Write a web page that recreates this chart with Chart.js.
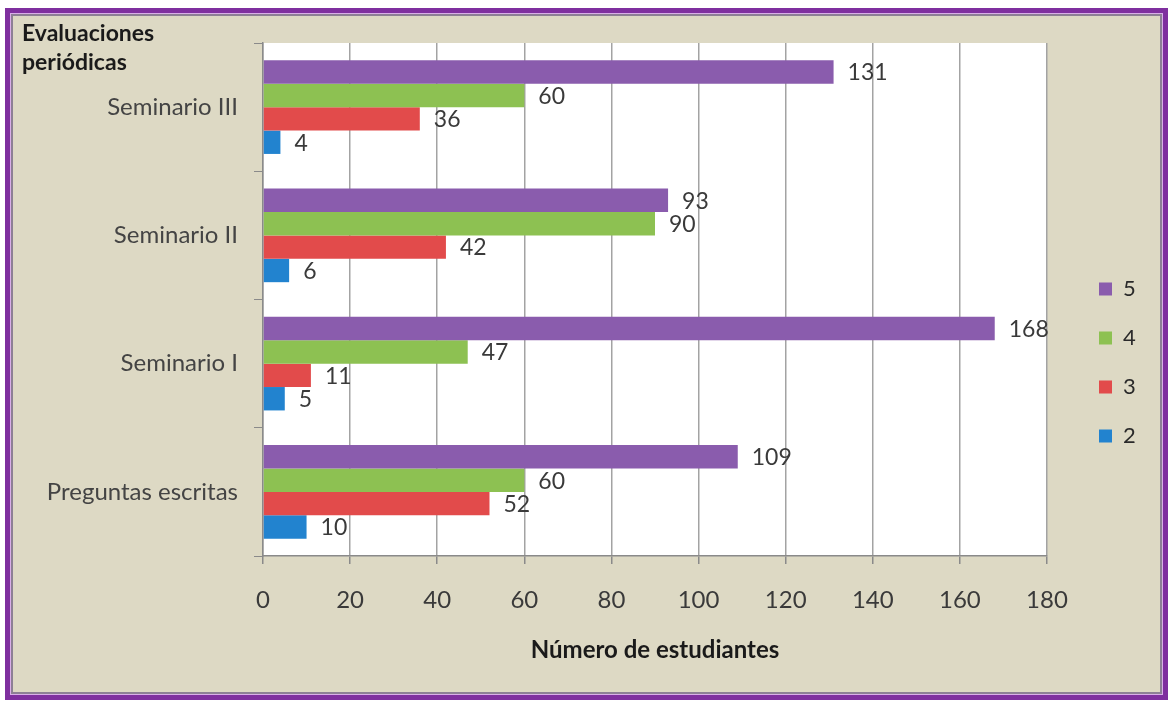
<!DOCTYPE html>
<html>
<head>
<meta charset="utf-8">
<script src="https://cdn.jsdelivr.net/npm/chart.js@4/dist/chart.umd.min.js"></script>
<style>
  html, body { margin:0; padding:0; background:#ffffff; }
  #frame {
    position:absolute; left:5px; top:8px; width:1153px; height:682px;
    border:5px solid #7f2f9f; background:#ddd9c4;
    box-shadow: inset 0 0 0 1px #d9aee8, inset 0 0 0 3px #8d7f95;
  }
  #wrap { position:absolute; left:0; top:0; width:1173px; height:702px; }
</style>
</head>
<body>
<div id="frame"></div>
<div id="wrap"><canvas id="c" width="1173" height="702"></canvas></div>
<script>
const categories = ['Seminario III', 'Seminario II', 'Seminario I', 'Preguntas escritas'];
const seriesNames = ['5', '4', '3', '2'];
const values5 = [131, 93, 168, 109];
const values4 = [60, 90, 47, 60];
const values3 = [36, 42, 11, 52];
const values2 = [4, 6, 5, 10];
const xTicks = [0, 20, 40, 60, 80, 100, 120, 140, 160, 180];
const axisTitleY = ['Evaluaciones', 'periódicas'];
const axisTitleX = 'Número de estudiantes';
const colors = ['#8a5cad', '#8dc152', '#e24b4b', '#2283cf'];

const FONT = 'Lato, "Open Sans", sans-serif';

const plotBg = {
  id: 'plotBg',
  beforeDraw(chart) {
    const {ctx, chartArea: a} = chart;
    ctx.save();
    ctx.fillStyle = '#ffffff';
    ctx.fillRect(a.left, a.top, a.right - a.left, a.bottom - a.top);
    ctx.restore();
  }
};

const valueLabels = {
  id: 'valueLabels',
  afterDatasetsDraw(chart) {
    const {ctx} = chart;
    ctx.save();
    ctx.font = '23px ' + FONT;
    ctx.fillStyle = '#3a3a3a';
    ctx.textAlign = 'left';
    ctx.textBaseline = 'middle';
    chart.data.datasets.forEach((ds, i) => {
      const meta = chart.getDatasetMeta(i);
      meta.data.forEach((bar, j) => {
        ctx.fillText(String(ds.data[j]), bar.x + 14, bar.y + 1);
      });
    });
    ctx.restore();
  }
};

const cornerTitle = {
  id: 'cornerTitle',
  afterDraw(chart) {
    const {ctx} = chart;
    ctx.save();
    ctx.font = 'bold 23px ' + FONT;
    ctx.fillStyle = '#1a1a1a';
    ctx.textAlign = 'left';
    ctx.textBaseline = 'middle';
    axisTitleY.forEach((t, i) => ctx.fillText(t, 22, 34 + i * 29));
    ctx.restore();
  }
};

const legendShift = {
  id: 'legendShift',
  afterLayout(chart) {
    if (chart.legend) {
      chart.legend.left += 25;
      chart.legend.right += 25;
    }
  }
};

const PAD = {left: 0, top: 43, right: 120, bottom: 20};

const chart = new Chart(document.getElementById('c'), {
  type: 'bar',
  data: {
    labels: categories,
    datasets: [
      {label: seriesNames[0], data: values5, backgroundColor: colors[0]},
      {label: seriesNames[1], data: values4, backgroundColor: colors[1]},
      {label: seriesNames[2], data: values3, backgroundColor: colors[2]},
      {label: seriesNames[3], data: values2, backgroundColor: colors[3]}
    ]
  },
  options: {
    indexAxis: 'y',
    responsive: false,
    animation: false,
    devicePixelRatio: 1,
    layout: {padding: PAD},
    datasets: {bar: {categoryPercentage: 0.73, barPercentage: 1.0}},
    scales: {
      x: {
        min: 0, max: 180,
        afterBuildTicks(scale) { scale.ticks = xTicks.map(v => ({value: v})); },
        afterFit(scale) { scale.height = 702 - PAD.bottom - 556; },
        grid: {color: '#a3a3a3', lineWidth: 1.5, tickLength: 8, tickColor: '#8a8a8a'},
        border: {display: true, color: '#8a8a8a', width: 1.5},
        ticks: {font: {family: FONT, size: 24}, color: '#3a3a3a', padding: 22},
        title: {display: true, text: axisTitleX, font: {family: FONT, size: 24, weight: 'bold'}, color: '#1a1a1a', padding: {top: 10, bottom: 17}}
      },
      y: {
        afterFit(scale) { scale.width = 263 - PAD.left; },
        grid: {drawOnChartArea: false, tickLength: 9, color: '#8a8a8a', offset: true},
        border: {display: true, color: '#8a8a8a', width: 1.5},
        ticks: {font: {family: FONT, size: 24}, color: '#444444', padding: 16}
      }
    },
    plugins: {
      legend: {
        position: 'right',
        labels: {font: {family: FONT, size: 22}, color: '#2a2a2a', boxWidth: 13, boxHeight: 13, padding: 27}
      },
      tooltip: {enabled: false}
    }
  },
  plugins: [plotBg, valueLabels, cornerTitle, legendShift]
});

// align plot area right edge
const diff = chart.chartArea.right - 1047;
if (Math.abs(diff) > 0.5) {
  PAD.right += diff;
  chart.options.layout.padding = PAD;
  chart.update();
}
</script>
</body>
</html>
